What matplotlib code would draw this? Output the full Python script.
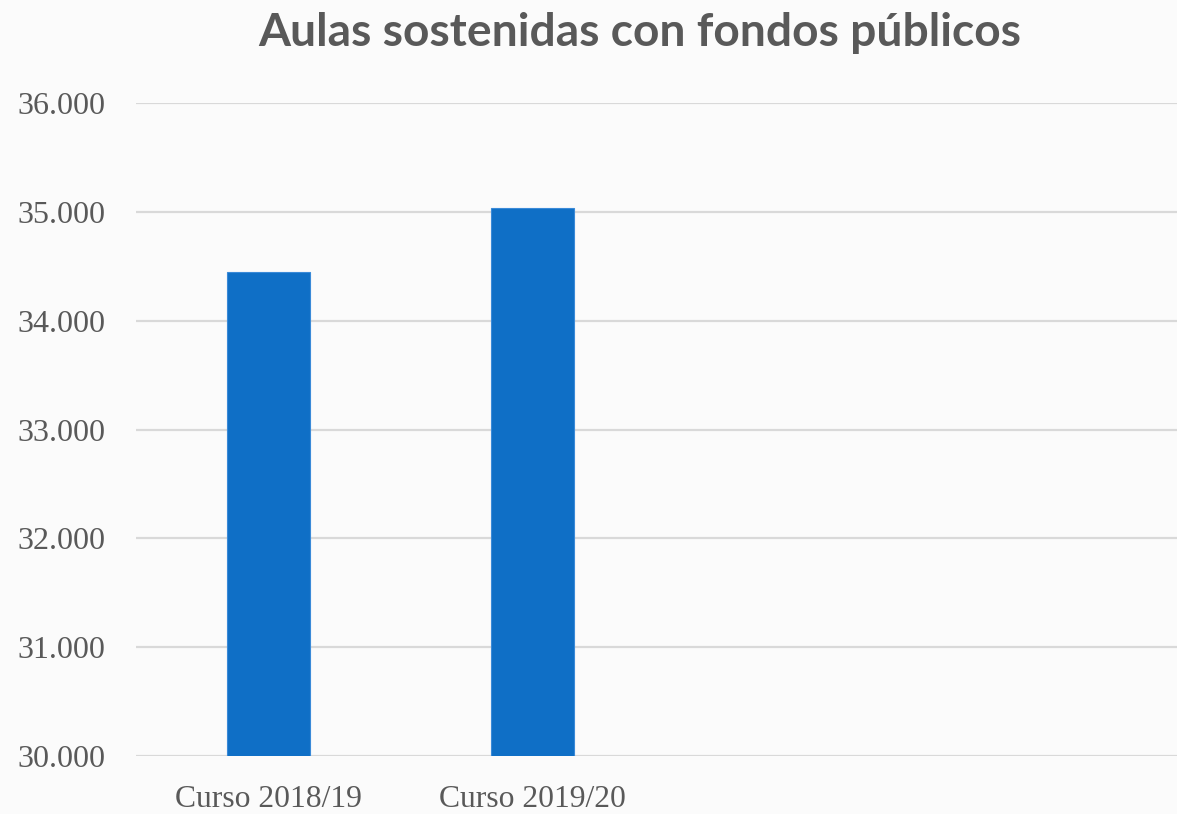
import matplotlib
matplotlib.use("Agg")
import matplotlib.pyplot as plt
from matplotlib.ticker import FuncFormatter

categories = ["Curso 2018/19", "Curso 2019/20", "", ""]
values = [34450, 35035]
title = "Aulas sostenidas con fondos públicos"
yticks = [30000, 31000, 32000, 33000, 34000, 35000, 36000]

fig = plt.figure(figsize=(11.77, 8.14), dpi=100)
fig.patch.set_facecolor("#fbfbfb")
ax = fig.add_axes([136/1177, 58/814, 1 - 136/1177, (756-103)/814])
ax.set_facecolor("#fbfbfb")

x = list(range(len(values)))
ax.bar(x, values, width=0.314, color="#0f6fc6", edgecolor="#3a8ad8", linewidth=0.8, zorder=3)

ax.set_ylim(30000, 36000)
ax.set_xlim(-0.502, 3.44)
ax.set_yticks(yticks)
ax.yaxis.set_major_formatter(FuncFormatter(lambda v, p: f"{int(v):,}".replace(",", ".")))
ax.set_xticks(range(len(categories)))
ax.set_xticklabels(categories)
ax.grid(axis="y", color="#d9d9d9", linewidth=1.6, zorder=0)
ax.set_axisbelow(True)
for s in ax.spines.values():
    s.set_visible(False)
ax.tick_params(axis="both", length=0, labelcolor="#595959")
ax.tick_params(axis="y", pad=22, labelsize=23)
ax.tick_params(axis="x", pad=21, labelsize=22.8)
for lab in ax.get_xticklabels() + ax.get_yticklabels():
    lab.set_fontfamily("Liberation Serif")

fig.text(640/1177, 1 - 33/814, title, ha="center", va="center",
         fontsize=33.2, fontweight="bold", color="#595959", family="Lato")

fig.savefig("out.png", dpi=100, facecolor=fig.get_facecolor())
